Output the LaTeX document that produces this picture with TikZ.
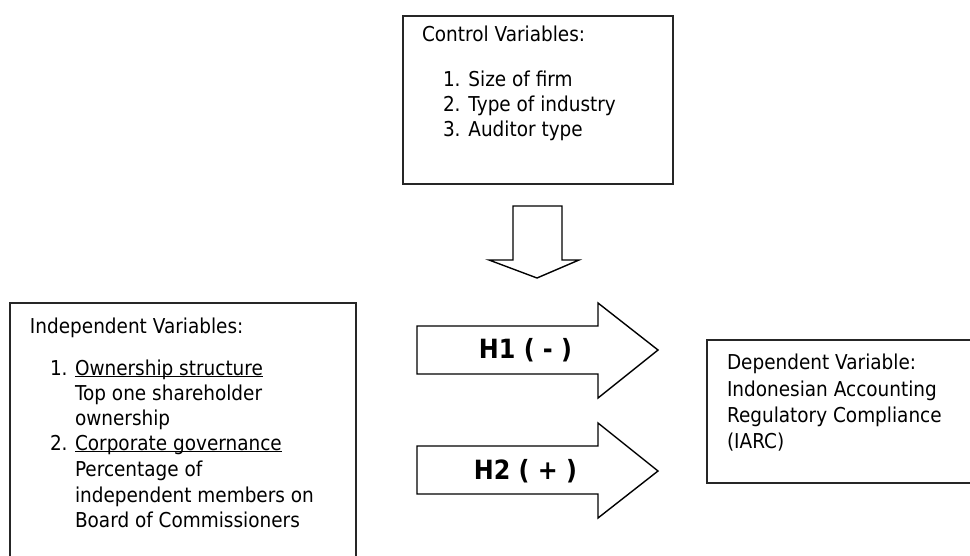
\documentclass[tikz,border=0pt]{standalone}
\usepackage{fontspec}
\setmainfont{DejaVu Sans}[FakeStretch=0.9]
\newcommand\myul[1]{\setbox0\hbox{#1}\rlap{\rule[-2.4pt]{\wd0}{1.2pt}}\box0}
\tikzset{
  boxline/.style={draw=black!85, line width=1.6pt},
  blockarrow/.style={draw=black, line width=1.4pt, line join=miter, fill=white},
  txt/.style={anchor=base west, inner sep=0pt, outer sep=0pt, font=\fontsize{20.5}{25}\selectfont},
  htxt/.style={anchor=base, inner sep=0pt, font=\fontsize{26.5}{30}\selectfont\bfseries},
}
\begin{document}
\begin{tikzpicture}[x=1pt,y=-1pt]
\useasboundingbox (0,0) rectangle (970,556);
\clip (0,0) rectangle (970,556);
\fill[white] (0,0) rectangle (970,556);

% Control variables box
\node[boxline, anchor=north west, minimum width=270pt, minimum height=168pt, inner sep=0pt] (ctrl) at (402,15) {};
\node[txt] (ctrlh) at (422,42) {Control Variables:};
\node[txt] (c1) at (443,87) {1. Size of firm};
\node[txt] (c2) at (443,112) {2. Type of industry};
\node[txt] (c3) at (443,137) {3. Auditor type};

% Down arrow
\draw[blockarrow] (513,206) -- (562,206) -- (562,260) -- (579,260) -- (537,278) -- (489,260) -- (513,260) -- cycle;
\coordinate (downtip) at (537,278);

% Independent box
\node[boxline, anchor=north west, minimum width=346pt, minimum height=280pt, inner sep=0pt] (indep) at (9,302) {};
\node[txt] (ih) at (30,334) {Independent Variables:};
\node[txt] (i1n) at (50,375) {1.};
\node[txt] (i1a) at (75,375) {\myul{Ownership structure}};
\node[txt] (i1b) at (75,400) {Top one shareholder};
\node[txt] (i1c) at (75,425) {ownership};
\node[txt] (i2n) at (50,450) {2.};
\node[txt] (i2a) at (75,450) {\myul{Corporate governance}};
\node[txt] (i2b) at (75,476) {Percentage of};
\node[txt] (i2c) at (75,502) {independent members on};
\node[txt] (i2d) at (75,527) {Board of Commissioners};

% H1 arrow
\draw[blockarrow] (417,326) -- (598,326) -- (598,303) -- (658,350) -- (598,398) -- (598,374) -- (417,374) -- cycle;
\node[htxt] (h1) at (525.5,358) {H1 ( - )};

% H2 arrow
\draw[blockarrow] (417,446) -- (598,446) -- (598,423) -- (658,471) -- (598,518) -- (598,494) -- (417,494) -- cycle;
\node[htxt] (h2) at (525.5,479) {H2 ( + )};

% Dependent box
\node[boxline, anchor=north west, minimum width=280pt, minimum height=143pt, inner sep=0pt] (dep) at (706,339) {};
\node[txt] (d1) at (727,370) {Dependent Variable:};
\node[txt] (d2) at (727,396) {Indonesian Accounting};
\node[txt] (d3) at (727,422) {Regulatory Compliance};
\node[txt] (d4) at (727,448) {(IARC)};
\end{tikzpicture}
\end{document}
